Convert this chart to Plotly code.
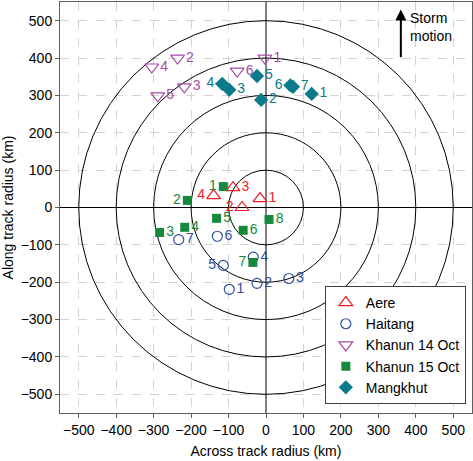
import plotly.graph_objects as go

# ---- data (km) ----
aere_x = [-16, -64, -88, -140]
aere_y = [24, 0, 53, 32]
aere_lbl = ["1", "2", "3", "4"]
aere_pos = ["middle right", "middle left", "middle right", "middle left"]

haitang_x = [-98, -24, 61, -34, -114, -130, -233]
haitang_y = [-219, -203, -190, -133, -155, -77, -86]
haitang_lbl = ["1", "2", "3", "4", "5", "6", "7"]
haitang_pos = ["middle right", "middle right", "middle right", "middle right",
               "middle left", "middle right", "middle right"]

kh14_x = [-3, -236, -218, -305, -289, -77]
kh14_y = [400, 400, 323, 376, 299, 365]
kh14_lbl = ["1", "2", "3", "4", "5", "6"]

kh15_x = [-114, -210, -284, -217, -132, -61, -35, 8]
kh15_y = [56, 19, -67, -53, -29, -61, -147, -32]
kh15_lbl = ["1", "2", "3", "4", "5", "6", "7", "8"]
kh15_pos = ["middle left", "middle left", "middle right", "middle right",
            "middle right", "middle right", "middle left", "middle right"]

mk_x = [122, -13, -98, -117, -24, 65, 72]
mk_y = [304, 288, 315, 331, 352, 327, 323]
mk_lbl = ["1", "2", "3", "4", "5", "6", "7"]
mk_pos = ["middle right", "middle right", "middle right", "middle left",
          "middle right", "middle left", "middle right"]

ring_radii = [100, 200, 300, 400, 500]
tick_vals = [-500, -400, -300, -200, -100, 0, 100, 200, 300, 400, 500]
tick_text = ["\u2212500", "\u2212400", "\u2212300", "\u2212200", "\u2212100", "0",
             "100", "200", "300", "400", "500"]

c_aere = "#ee1c25"
c_hai = "#2e4f9e"
c_k14 = "#a64ca6"
c_k15 = "#17893c"
c_mk = "#0b7b8b"

FONT = "Liberation Sans, Arial, sans-serif"

fig = go.Figure()

def add(name, x, y, lbl, pos, color, symbol, size, lw=1.2):
    fig.add_trace(go.Scatter(
        x=x, y=y, text=lbl, name=name, mode="markers+text",
        textposition=pos, textfont=dict(color=color, size=14, family=FONT),
        marker=dict(symbol=symbol, size=size, color=color,
                    line=dict(color=color, width=lw)),
        cliponaxis=False,
    ))

add("Aere", aere_x, aere_y, aere_lbl, aere_pos, c_aere, "triangle-up-open", 12)
add("Haitang", haitang_x, haitang_y, haitang_lbl, haitang_pos, c_hai, "circle-open", 10)
add("Khanun 14 Oct", kh14_x, kh14_y, kh14_lbl, "middle right", c_k14, "triangle-down-open", 12)
add("Khanun 15 Oct", kh15_x, kh15_y, kh15_lbl, kh15_pos, c_k15, "square", 9, 0)
add("Mangkhut", mk_x, mk_y, mk_lbl, mk_pos, c_mk, "diamond", 11, 0)

shapes = []
for r in ring_radii:
    shapes.append(dict(type="circle", xref="x", yref="y", x0=-r, y0=-r, x1=r, y1=r,
                       line=dict(color="black", width=1), layer="between"))
fig.update_layout(shapes=shapes)

# storm motion arrow
fig.add_annotation(x=360, y=530, ax=360, ay=398, xref="x", yref="y", axref="x", ayref="y",
                   showarrow=True, arrowhead=2, arrowsize=1.1, arrowwidth=2, arrowcolor="black",
                   text="")
fig.add_annotation(x=380, y=484, xref="x", yref="y", text="Storm<br>motion", showarrow=False,
                   xanchor="left", yanchor="middle", align="left",
                   font=dict(size=14, family=FONT, color="black"))

axis_common = dict(
    tickmode="array", tickvals=tick_vals, ticktext=tick_text,
    showgrid=True, gridcolor="#d3d3d3", griddash="dash", gridwidth=1,
    showline=True, mirror=True, linecolor="#606060", linewidth=1,
    ticks="outside", ticklen=4, tickcolor="#606060",
    tickfont=dict(size=14, family=FONT, color="black"),
    range=[-550, 550], zeroline=True, automargin=False,
)

fig.update_xaxes(**axis_common, zerolinecolor="#808080", zerolinewidth=2,
                 title=dict(text="Across track radius (km)", font=dict(size=14, family=FONT, color="black"),
                            standoff=9))
fig.update_yaxes(**axis_common, zerolinecolor="black", zerolinewidth=1,
                 title=dict(text="Along track radius (km)", font=dict(size=14, family=FONT, color="black"),
                            standoff=5))

fig.update_layout(
    width=473, height=461,
    margin=dict(l=60, r=1, t=2, b=48),
    plot_bgcolor="white", paper_bgcolor="white",
    font=dict(family=FONT, size=14, color="black"),
    legend=dict(x=0.985, y=0.022, xanchor="right", yanchor="bottom",
                bgcolor="white", bordercolor="#404040", borderwidth=1,
                font=dict(size=14, family=FONT, color="black"),
                itemsizing="trace", itemwidth=30, tracegroupgap=0,
                entrywidth=116, entrywidthmode="pixels"),
    showlegend=True,
)

fig.write_html("out.html", config={"displayModeBar": False},
               post_script="document.body.style.margin='0';document.body.style.overflow='hidden';")
